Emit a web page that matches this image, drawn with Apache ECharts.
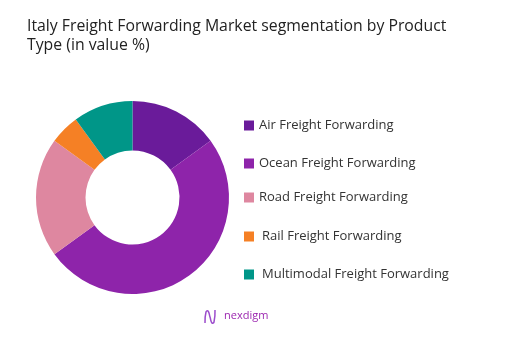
<!DOCTYPE html>
<html>
<head>
<meta charset="utf-8">
<script src="https://cdn.jsdelivr.net/npm/echarts@6/dist/echarts.min.js"></script>
<style>
html,body{margin:0;padding:0;background:#fff;}
#chart{width:505px;height:340px;}
</style>
</head>
<body>
<div id="chart"></div>
<script>
var categories = ['Air Freight Forwarding','Ocean Freight Forwarding','Road Freight Forwarding','Rail Freight Forwarding','Multimodal Freight Forwarding'];
var values = [15, 50, 20, 5, 10];
var colors = ['#6A1B9A','#8E24AA','#DE87A0','#F58025','#009688'];
var titleText = 'Italy Freight Forwarding Market segmentation by Product\nType (in value %)';

var FONT = 'Open Sans';
var legendTops = [114, 152, 186, 225, 263];
var legendTextPad = [0, 0, 0, 3, 3];

var chart = echarts.init(document.getElementById('chart'), null, {renderer:'canvas'});
var legends = categories.map(function(c, i){
  return {
    data:[c], left: 239, top: legendTops[i], orient:'vertical',
    icon:'rect', itemWidth:10, itemHeight:10, itemGap:4,
    textStyle:{fontFamily:FONT, fontSize:13, color:'#333', padding:[0,0,0,legendTextPad[i]]},
    selectedMode:false
  };
});
chart.setOption({
  animation:false,
  color: colors,
  title:{
    text:titleText, left:22, top:12,
    textStyle:{fontFamily:FONT, fontSize:15.8, fontWeight:'normal', color:'#222', lineHeight:19}
  },
  legend: legends,
  graphic:[
    {type:'text', x:224, y:310, style:{text:'nexdigm', font:'11px "Open Sans"', fill:'#9C27B0'}},
    {type:'polyline', shape:{points:[[205,323],[206,312],[208,311],[210,317],[212,323],[214,322],[215,310]], smooth:0.5}, style:{stroke:'#9C4DCC', lineWidth:1.5, fill:'none'}}
  ],
  series:[{
    type:'pie',
    center:[132.5,197.5],
    radius:[47,96.5],
    startAngle:90,
    clockwise:true,
    label:{show:false},
    labelLine:{show:false},
    itemStyle:{borderWidth:0},
    data: categories.map(function(c,i){return {name:c, value:values[i]};})
  }]
});
</script>
</body>
</html>
